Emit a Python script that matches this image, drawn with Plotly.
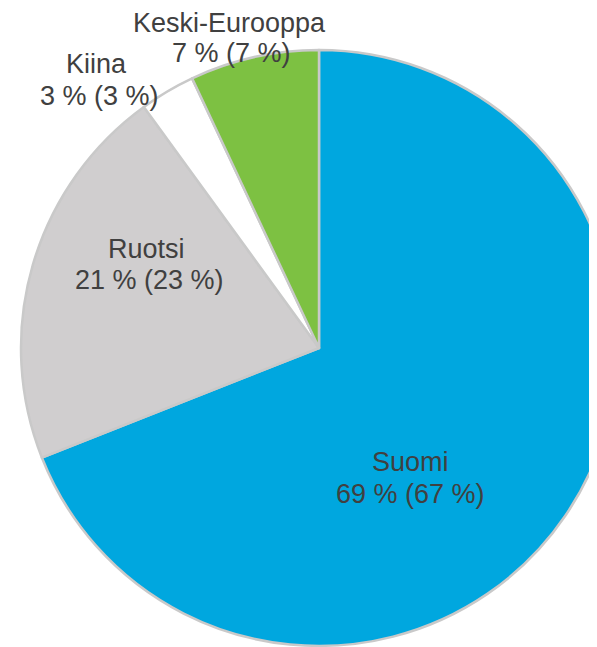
import plotly.graph_objects as go

# Data
regions = ["Suomi", "Ruotsi", "Kiina", "Keski-Eurooppa"]
shares = [69, 21, 3, 7]          # current share, %
prev_shares = [67, 23, 3, 7]     # comparison share, %
colors = ["#00A7DF", "#D0CECF", "#FFFFFF", "#7DC142"]

# Layout geometry (pixels)
W, H = 650, 700
L, T = 13, 42
D = 596  # pie domain square
R = W - L - D
B = H - T - D
BODY = 8  # default page body margin

def px_to_paper(x, y):
    return (x - BODY - L) / D, 1 - (y - BODY - T) / D

# Label positions (page pixels): name line and value line centres
label_pos = {
    "Suomi": ((410, 462), (410, 494)),
    "Ruotsi": ((146, 249), (149, 280)),
    "Kiina": ((96, 64), (99, 96)),
    "Keski-Eurooppa": ((229, 23), (231, 53)),
}

fig = go.Figure(go.Pie(
    labels=regions,
    values=shares,
    sort=False,
    direction="clockwise",
    rotation=0,
    marker=dict(colors=colors, line=dict(color="#C9C9C9", width=2.5)),
    textinfo="none",
    hoverinfo="label+percent",
    showlegend=False,
))

font = dict(family="Liberation Sans, Arial, sans-serif", size=27, color="#404040")
annotations = []
for name, s, p in zip(regions, shares, prev_shares):
    (x1, y1), (x2, y2) = label_pos[name]
    ax, ay = px_to_paper(x1, y1)
    bx, by = px_to_paper(x2, y2)
    annotations.append(dict(x=ax, y=ay, xref="paper", yref="paper", text=name,
                            showarrow=False, xanchor="center", yanchor="middle", font=font))
    annotations.append(dict(x=bx, y=by, xref="paper", yref="paper", text=f"{s} % ({p} %)",
                            showarrow=False, xanchor="center", yanchor="middle", font=font))

fig.update_layout(
    width=W, height=H,
    margin=dict(l=L, r=R, t=T, b=B, pad=0),
    paper_bgcolor="white",
    plot_bgcolor="white",
    annotations=annotations,
)

fig.write_html(
    "out.html",
    post_script="document.documentElement.style.overflow='hidden';document.body.style.overflow='hidden';",
)
